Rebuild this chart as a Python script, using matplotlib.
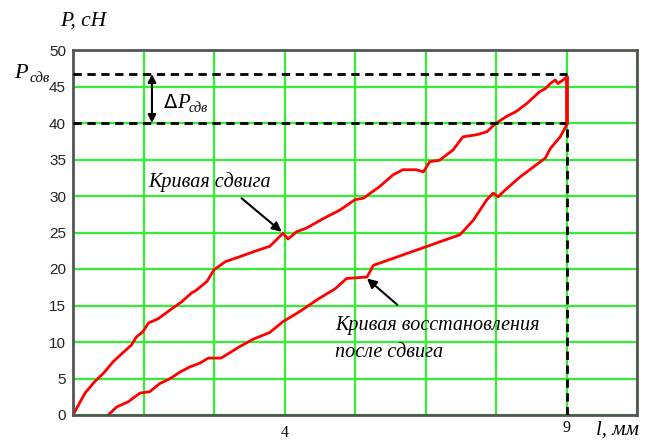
import matplotlib
matplotlib.use('Agg')
import matplotlib.pyplot as plt
import numpy as np

# x positions are in grid cells (the axis is labelled only at cells 3 -> "4" and 7 -> "9")
shear_x = [0, 0.17, 0.31, 0.43, 0.57, 0.67, 0.83, 0.90, 0.99, 1.07, 1.21, 1.38, 1.54, 1.68,
           1.75, 1.90, 2.0, 2.16, 2.37, 2.63, 2.79, 2.98, 3.05, 3.17, 3.31, 3.55, 3.79, 4.0,
           4.12, 4.35, 4.54, 4.68, 4.87, 4.97, 5.06, 5.2, 5.39, 5.53, 5.73, 5.87, 5.99, 6.15,
           6.29, 6.44, 6.62, 6.7, 6.77, 6.84, 6.88, 6.98, 7.0, 7.0]
shear_p = [0, 3.0, 4.6, 5.7, 7.3, 8.2, 9.6, 10.7, 11.4, 12.6, 13.2, 14.4, 15.5, 16.7,
           17.1, 18.3, 19.9, 21.0, 21.7, 22.6, 23.1, 24.9, 24.1, 25.1, 25.6, 26.9, 28.1, 29.5,
           29.7, 31.3, 32.9, 33.6, 33.6, 33.3, 34.7, 34.9, 36.3, 38.1, 38.4, 38.8, 39.9, 40.9,
           41.6, 42.7, 44.3, 44.7, 45.4, 45.9, 45.4, 46.1, 46.3, 40.0]

recov_x = [0.50, 0.62, 0.78, 0.95, 1.09, 1.23, 1.38, 1.52, 1.66, 1.80, 1.92, 2.10, 2.37,
           2.56, 2.79, 2.98, 3.22, 3.48, 3.72, 3.88, 4.17, 4.26, 5.49, 5.68, 5.87, 5.96,
           6.03, 6.15, 6.34, 6.70, 6.77, 6.91, 7.0]
recov_p = [0, 1.1, 1.8, 3.0, 3.2, 4.3, 5.0, 5.9, 6.6, 7.1, 7.8, 7.8, 9.4,
           10.4, 11.3, 12.8, 14.2, 15.9, 17.3, 18.7, 18.9, 20.5, 24.7, 26.7, 29.5, 30.4,
           29.9, 31.0, 32.6, 35.2, 36.5, 38.1, 39.7]

p_shear = 46.7
p_low = 40.0
l_end = 7.0
y_ticks = list(range(0, 51, 5))

serif = 'Liberation Serif'
sans = ['Liberation Sans Narrow', 'Liberation Sans', 'DejaVu Sans']

fig = plt.figure(figsize=(6.49, 4.43), dpi=100)
ax = fig.add_axes([73 / 649, 28 / 443, 564 / 649, 365 / 443])

ax.set_xlim(0, 8)
ax.set_ylim(0, 50)
ax.set_xticks(np.arange(0, 9))
ax.set_xticklabels([])
ax.set_yticks(y_ticks)
ax.set_yticklabels([str(v) for v in y_ticks], fontfamily=sans, fontsize=11, color='#222222')
ax.tick_params(length=0, pad=5)
ax.grid(True, color='#33ee33', linewidth=1.6)
ax.set_axisbelow(True)
for s in ax.spines.values():
    s.set_color('#555555')
    s.set_linewidth(2)

ax.plot(shear_x, shear_p, color='red', lw=2, solid_joinstyle='round')
ax.plot(recov_x, recov_p, color='red', lw=2, solid_joinstyle='round')

# dashed guides
ax.plot([0, l_end], [p_shear, p_shear], color='black', ls=(0, (3, 2)), lw=2, zorder=3)
ax.plot([0, l_end], [p_low, p_low], color='black', ls=(0, (3, 2)), lw=2, zorder=3)
ax.plot([l_end, l_end], [0, p_low], color='black', ls=(0, (3, 2)), lw=2, zorder=3)
ax.plot([l_end, l_end], [p_low, shear_p[-2]], color='red', lw=2, zorder=4)

ax.annotate('', xy=(1.12, p_low), xytext=(1.12, p_shear),
            arrowprops=dict(arrowstyle='<|-|>', color='black', lw=1.5,
                            shrinkA=0, shrinkB=0, mutation_scale=12))
ax.text(1.27, 42.7, r'$\Delta$', fontsize=14, va='center', ha='left', fontfamily=serif)
ax.text(1.47, 42.7, 'P', fontsize=15, va='center', ha='left', fontfamily=serif, style='italic')
ax.text(1.64, 42.0, 'сдв', fontsize=10, va='center', ha='left', fontfamily=serif, style='italic')

ax.text(1.93, 31.9, 'Кривая сдвига', fontsize=14.5, ha='center', va='center',
        fontfamily=serif, style='italic')
ax.annotate('', xy=(2.96, 25.1), xytext=(2.39, 29.7),
            arrowprops=dict(arrowstyle='-|>', color='black', lw=1.5, mutation_scale=14,
                            shrinkA=0, shrinkB=0))

ax.text(3.72, 12.3, 'Кривая восстановления', fontsize=14.5, ha='left', va='center',
        fontfamily=serif, style='italic')
ax.text(3.72, 8.6, 'после сдвига', fontsize=14.5, ha='left', va='center',
        fontfamily=serif, style='italic')
ax.annotate('', xy=(4.17, 18.7), xytext=(4.6, 15.1),
            arrowprops=dict(arrowstyle='-|>', color='black', lw=1.5, mutation_scale=14,
                            shrinkA=0, shrinkB=0))

# x tick labels and axis titles
ax.text(3, -2.4, '4', fontsize=11.5, ha='center', va='center', fontfamily=serif)
ax.text(7, -1.8, '9', fontsize=11.5, ha='center', va='center', fontfamily=serif)
fig.text(596 / 649, 1 - 430 / 443, 'l, мм', fontsize=15, ha='left', va='center',
         fontfamily=serif, style='italic')
fig.text(60 / 649, 1 - 21 / 443, 'P, cH', fontsize=15.5, ha='left', va='center',
         fontfamily=serif, style='italic')
fig.text(14 / 649, 1 - 73 / 443, 'P', fontsize=16, ha='left', va='center',
         fontfamily=serif, style='italic')
fig.text(30 / 649, 1 - 78 / 443, 'сдв', fontsize=10.5, ha='left', va='center',
         fontfamily=serif, style='italic')

fig.savefig('out.png', dpi=100)
